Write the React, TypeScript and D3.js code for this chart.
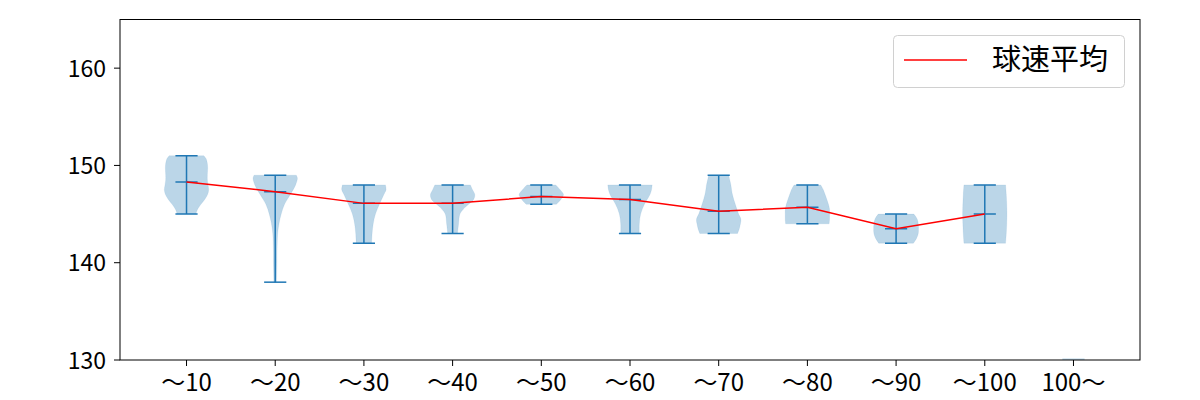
import React from "react";
import * as d3 from "d3";

const categories = ["〜10", "〜20", "〜30", "〜40", "〜50", "〜60", "〜70", "〜80", "〜90", "〜100", "100〜"];
const yTicks = [130, 140, 150, 160];

const mins = [145, 138, 142, 143, 146, 143, 143, 144, 142, 142];
const maxs = [151, 149, 148, 148, 148, 148, 149, 148, 145, 148];
const means = [148.3, 147.3, 146.1, 146.1, 146.8, 146.5, 145.3, 145.7, 143.5, 145.0];

// density profiles: [speed, relative half-width]
const profiles: [number, number][][] = [
  [[151, 0.78], [150.7, 0.88], [150, 0.95], [149, 0.94], [148.5, 0.94], [148, 0.97], [147.5, 1.0], [147, 0.95], [146.5, 0.82], [146, 0.65], [145.5, 0.5], [145, 0.42]],
  [[149, 0.95], [148.7, 1.0], [148, 0.92], [147, 0.68], [146, 0.42], [145, 0.27], [144, 0.17], [143, 0.11], [142, 0.09], [141, 0.08], [140, 0.08], [139, 0.07], [138, 0.06]],
  [[148, 0.97], [147.5, 1.0], [147, 0.9], [146, 0.7], [145, 0.52], [144, 0.42], [143, 0.37], [142, 0.35]],
  [[148, 0.8], [147.5, 0.9], [147, 1.0], [146.5, 0.95], [146, 0.72], [145.5, 0.48], [145, 0.33], [144, 0.27], [143, 0.22]],
  [[148, 0.65], [147.5, 0.85], [147, 1.0], [146.5, 0.88], [146, 0.68]],
  [[148, 1.0], [147.5, 0.97], [147, 0.9], [146, 0.65], [145, 0.48], [144, 0.42], [143, 0.42]],
  [[149, 0.45], [148.5, 0.5], [148, 0.55], [147, 0.62], [146, 0.75], [145, 0.9], [144.5, 1.0], [144, 0.98], [143.5, 0.93], [143, 0.85]],
  [[148, 0.6], [147.5, 0.72], [147, 0.8], [146.5, 0.88], [146, 0.95], [145.5, 1.0], [145, 1.0], [144.5, 1.0], [144, 0.98]],
  [[145, 0.8], [144.5, 0.95], [144, 1.0], [143, 1.0], [142.5, 0.92], [142, 0.78]],
  [[148, 0.94], [147, 0.97], [146, 0.99], [145, 1.0], [144, 0.99], [143, 0.97], [142, 0.94]],
];

const W = 1200, H = 400;
const L = 120, R = 1140, T = 19.5, B = 360;
const BLUE = "#1f77b4";

export default function App() {
  const x = d3.scaleLinear().domain([0.25, 11.75]).range([L, R]);
  const y = d3.scaleLinear().domain([130, 165]).range([B, T]);
  const step = x(2) - x(1);
  const halfW = step * 0.25;
  const capW = step * 0.125;

  const line = d3.line<number>().x((_, i) => x(i + 1)).y(d => y(d));

  return (
    <svg width={W} height={H} style={{ position: "absolute", left: 0, top: 0, background: "#fff" }}
      fontFamily="'Noto Sans CJK JP', 'Noto Sans', sans-serif">
      <defs>
        <clipPath id="plotclip"><rect x={L} y={T} width={R - L} height={B - T} /></clipPath>
      </defs>
      <g clipPath="url(#plotclip)">
        {profiles.map((p, i) => {
          const cx = x(i + 1);
          const area = d3.area<[number, number]>()
            .y(d => y(d[0]))
            .x0(d => cx - d[1] * halfW)
            .x1(d => cx + d[1] * halfW)
            .curve(d3.curveCatmullRom);
          return <path key={i} d={area(p) || ""} fill={BLUE} fillOpacity={0.3} stroke={BLUE} strokeOpacity={0.08} strokeWidth={1} />;
        })}
        <rect x={x(11) - halfW * 0.5} y={B - 1.5} width={halfW} height={1.5} fill={BLUE} fillOpacity={0.3} />
        {profiles.map((_, i) => {
          const cx = x(i + 1);
          return (
            <g key={"b" + i} stroke={BLUE} strokeWidth={1.5}>
              <line x1={cx} x2={cx} y1={y(mins[i])} y2={y(maxs[i])} />
              <line x1={cx - capW} x2={cx + capW} y1={y(mins[i])} y2={y(mins[i])} />
              <line x1={cx - capW} x2={cx + capW} y1={y(maxs[i])} y2={y(maxs[i])} />
              <line x1={cx - capW} x2={cx + capW} y1={y(means[i])} y2={y(means[i])} />
            </g>
          );
        })}
        <path d={line(means) || ""} fill="none" stroke="red" strokeWidth={1.5} />
      </g>
      <rect x={L} y={T} width={R - L} height={B - T} fill="none" stroke="#000" strokeWidth={1} />
      {yTicks.map(t => (
        <g key={t}>
          <line x1={L - 6} x2={L} y1={y(t)} y2={y(t)} stroke="#000" strokeWidth={1} />
          <text x={L - 14} y={y(t)} dy="0.38em" textAnchor="end" fontSize={23} fill="#000">{t}</text>
        </g>
      ))}
      {categories.map((c, i) => (
        <g key={c}>
          <line x1={x(i + 1)} x2={x(i + 1)} y1={B} y2={B + 6} stroke="#000" strokeWidth={1} />
          <text x={x(i + 1)} y={B + 31} textAnchor="middle" fontSize={24} fill="#000">{c}</text>
        </g>
      ))}
      <g>
        <rect x={893.5} y={35.5} width={231} height={52} rx={4} fill="#fff" fillOpacity={0.8} stroke="#d0d0d0" strokeWidth={1} />
        <line x1={904} x2={967} y1={60} y2={60} stroke="red" strokeWidth={1.5} />
        <text x={992} y={70} fontSize={29} fill="#000">球速平均</text>
      </g>
    </svg>
  );
}
